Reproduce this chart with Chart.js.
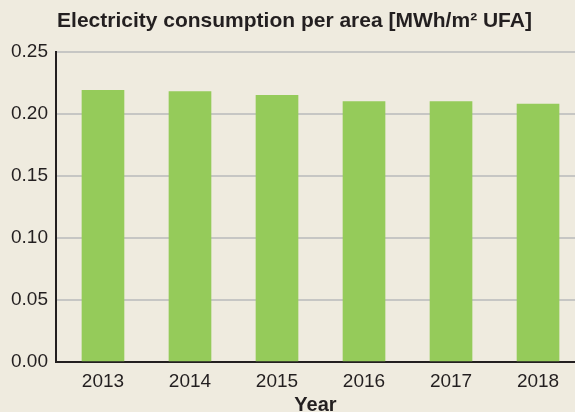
<!DOCTYPE html>
<html>
<head>
<meta charset="utf-8">
<script src="https://cdn.jsdelivr.net/npm/chart.js@4"></script>
<style>
  html, body { margin: 0; padding: 0; background: #efebdf; }
  #wrap { width: 575px; height: 412px; position: relative; }
</style>
</head>
<body>
<div id="wrap"><canvas id="c"></canvas></div>
<script>
const categories = ['2013', '2014', '2015', '2016', '2017', '2018'];
const consumption = [0.219, 0.218, 0.215, 0.210, 0.210, 0.208];
const yTicks = [0, 0.05, 0.10, 0.15, 0.20, 0.25];
const chartTitle = 'Electricity consumption per area [MWh/m\u00B2 UFA]';
const xTitle = 'Year';

const points = consumption.map((v, i) => ({ x: i, y: v }));
const ink = '#231f20';
const FONT = 'Liberation Sans, Arial, sans-serif';

const shiftTitle = {
  id: 'shiftTitle',
  afterLayout(chart) {
    const t = chart.titleBlock;
    if (t) { t.left += 7; t.right += 7; }
  }
};

new Chart(document.getElementById('c'), {
  type: 'bar',
  data: {
    datasets: [{
      data: points,
      backgroundColor: '#95cb5a',
      borderWidth: 0,
      barThickness: 42
    }]
  },
  plugins: [shiftTitle],
  options: {
    responsive: true,
    maintainAspectRatio: false,
    animation: false,
    layout: { padding: 0 },
    plugins: {
      legend: { display: false },
      tooltip: { enabled: false },
      title: {
        display: true,
        text: chartTitle,
        color: ink,
        font: { family: FONT, size: 21, weight: 'bold' },
        padding: { top: 9, bottom: 17.8 }
      }
    },
    scales: {
      x: {
        type: 'linear',
        offset: false,
        min: -0.54,
        max: 5.425,
        grid: { display: false, offset: false },
        border: { display: true, color: ink, width: 2 },
        ticks: {
          stepSize: 1,
          includeBounds: false,
          autoSkip: false,
          maxRotation: 0,
          color: ink,
          padding: 0,
          font: { family: FONT, size: 19 },
          callback: (v) => Number.isInteger(v) && categories[v] !== undefined ? categories[v] : ''
        },
        title: {
          display: true,
          text: xTitle,
          color: ink,
          font: { family: FONT, size: 20, weight: 'bold' },
          padding: { top: 0, bottom: -5 }
        },
        afterFit: (s) => { s.height = 50; }
      },
      y: {
        min: 0,
        max: 0.25,
        afterBuildTicks: (s) => { s.ticks = yTicks.map(v => ({ value: v })); },
        grid: { color: '#c6c6c4', lineWidth: 2, drawTicks: false },
        border: { display: true, color: ink, width: 2 },
        ticks: {
          color: ink,
          padding: 8,
          font: { family: FONT, size: 19 },
          callback: (v) => Number(v).toFixed(2)
        },
        afterFit: (s) => { s.width = 56; }
      }
    }
  }
});
</script>
</body>
</html>
